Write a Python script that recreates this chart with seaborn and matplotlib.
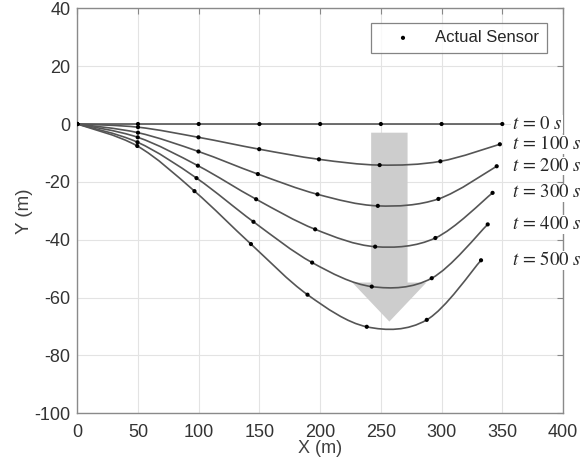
import numpy as np
import matplotlib
matplotlib.use("Agg")
import matplotlib.pyplot as plt
import seaborn as sns
import pandas as pd
from matplotlib.path import Path
from matplotlib.patches import PathPatch, FancyArrow

# sensor positions, one list per time step
times = [0, 100, 200, 300, 400, 500]
sensor_x = [
    [0, 50, 100, 150, 200, 250, 300, 350],
    [0, 50, 99.8, 149.8, 199, 249, 299, 348],
    [0, 50, 99.8, 148.7, 197.8, 247.5, 297.4, 345.4],
    [0, 49.8, 99.3, 147.3, 195.9, 245.3, 294.9, 342],
    [0, 49.6, 98.2, 145.1, 193.4, 242.5, 291.9, 338],
    [0, 49.4, 96.5, 143, 189.6, 238.4, 287.8, 332.5],
]
sensor_y = [
    [0, 0, 0, 0, 0, 0, 0, 0],
    [0, -1.1, -4.6, -8.7, -12.2, -14.2, -12.9, -7.0],
    [0, -3.0, -9.5, -17.3, -24.3, -28.3, -25.9, -14.6],
    [0, -4.6, -14.4, -26.0, -36.4, -42.4, -39.4, -23.8],
    [0, -6.3, -18.7, -33.8, -47.9, -56.2, -53.3, -34.7],
    [0, -7.6, -23.2, -41.5, -59.0, -70.1, -67.7, -47.1],
]

rows = []
for t, xs, ys in zip(times, sensor_x, sensor_y):
    for x, y in zip(xs, ys):
        rows.append({"t": t, "x": x, "y": y})
df = pd.DataFrame(rows)

sns.set_theme(style="whitegrid")
plt.rcParams["font.family"] = ["Liberation Sans", "DejaVu Sans"]
plt.rcParams["mathtext.fontset"] = "stix"
plt.rcParams["axes.unicode_minus"] = False

fig = plt.figure(figsize=(5.85, 4.58), dpi=100)
ax = fig.add_axes([0.1321, 0.0976, 0.8303, 0.8843])


def smooth_path(xs, ys):
    # Catmull-Rom through the points, drawn as cubic Bezier segments
    p = np.column_stack([xs, ys]).astype(float)
    p = np.vstack([p[0], p, p[-1]])
    verts = [p[1]]
    codes = [Path.MOVETO]
    for i in range(1, len(p) - 2):
        c1 = p[i] + (p[i + 1] - p[i - 1]) / 6
        c2 = p[i + 1] - (p[i + 2] - p[i]) / 6
        verts += [c1, c2, p[i + 1]]
        codes += [Path.CURVE4] * 3
    return Path(verts, codes)


for xs, ys in zip(sensor_x, sensor_y):
    ax.add_patch(PathPatch(smooth_path(xs, ys), facecolor="none",
                           edgecolor="#555555", lw=1.2, zorder=3))

sns.scatterplot(data=df, x="x", y="y", color="black", s=9, edgecolor="none",
                ax=ax, zorder=4, label="Actual Sensor")

# big grey arrow
ax.add_patch(FancyArrow(257, -3, 0, -65.3, width=30, head_width=61,
                        head_length=13.5, length_includes_head=True,
                        color="#cdcdcd", lw=0, zorder=2))

for t, ys in zip(times, sensor_y):
    ax.text(358, ys[-1], rf"$t\,=\,{t}\ s$", fontsize=13.5, va="center",
            ha="left", clip_on=False, zorder=5,
            bbox=dict(facecolor="white", edgecolor="none", pad=0.5))

ax.set_xlim(0, 400)
ax.set_ylim(-100, 40)
ax.set_xticks(range(0, 401, 50))
ax.set_yticks(range(-100, 41, 20))
ax.set_xlabel("X (m)", fontsize=13, color="#404040", labelpad=-1)
ax.set_ylabel("Y (m)", fontsize=13.5, color="#404040", labelpad=1)
ax.tick_params(direction="in", length=4, width=0.8, colors="#888888",
               labelcolor="#333333", labelsize=13, top=True, right=True,
               pad=5)
ax.tick_params(axis="x", pad=8)
ax.grid(True, color="#e3e3e3", lw=0.8)
for s in ax.spines.values():
    s.set_visible(True)
    s.set_color("#8a8a8a")
    s.set_linewidth(1.0)

leg = ax.legend(loc="upper right", bbox_to_anchor=(0.967, 0.9644),
                borderaxespad=0, fontsize=12, frameon=True, fancybox=False,
                handlelength=2.9, handletextpad=0.5, borderpad=0.45)
leg.get_frame().set_edgecolor("#666666")
leg.get_frame().set_linewidth(0.9)

fig.savefig("out.png", dpi=100)
